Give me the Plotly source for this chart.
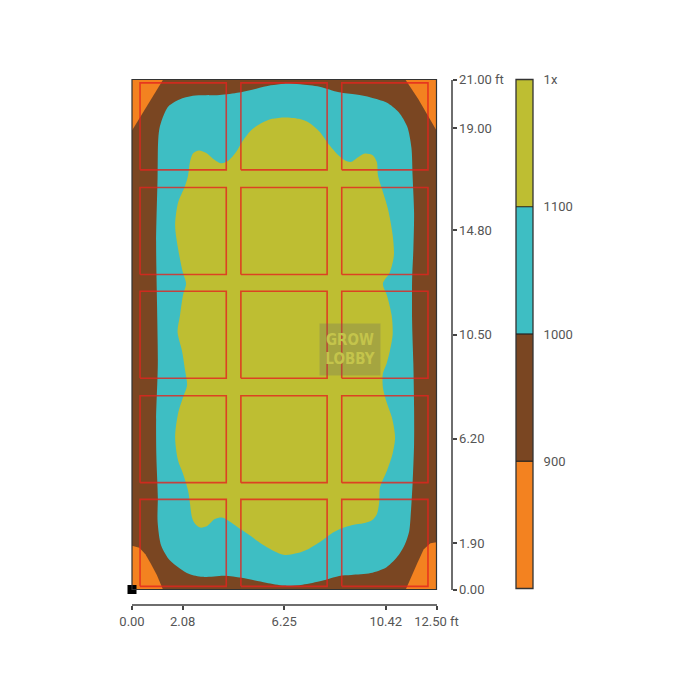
import plotly.graph_objects as go

# ---------------- data ----------------
room_range_x = [0.0, 12.5]
room_range_y = [0.0, 21.0]

x_ticks = [0.00, 2.08, 6.25, 10.42, 12.50]
x_tick_text = ["0.00", "2.08", "6.25", "10.42", "12.50 ft"]
y_ticks = [0.00, 1.90, 6.20, 10.50, 14.80, 19.00, 21.00]
y_tick_text = ["0.00", "1.90", "6.20", "10.50", "14.80", "19.00", "21.00 ft"]

level_edges = [800, 900, 1000, 1100, 1200]
level_lines = [900, 1000, 1100]
level_tick_vals = [900, 1000, 1100, 1200]
level_tick_text = ["900", "1000", "1100", "1x"]
band_colors = ["#F38220", "#7A4622", "#3EBEC3", "#BEBE32"]

# iso-line 1000 (encloses the >=1000 region)
iso1000_x = [1.05, 1.07, 1.12, 1.25, 1.50, 1.95, 2.50, 3.60, 4.40, 5.10, 5.70, 6.25, 6.90, 7.70,
             8.50, 9.20, 9.80, 10.45, 10.95, 11.30, 11.47, 11.52, 11.58, 11.55, 11.50, 11.50,
             11.55, 11.58, 11.58, 11.52, 11.45, 11.38, 11.20, 10.95, 10.45, 9.80, 9.00, 8.50,
             7.80, 7.00, 6.25, 5.50, 4.50, 3.80, 2.90, 2.35, 1.95, 1.55, 1.20, 1.05, 1.06, 1.00,
             0.99, 1.06, 1.03, 0.99, 1.05]
iso1000_y = [17.00, 18.40, 18.95, 19.40, 19.90, 20.18, 20.33, 20.36, 20.46, 20.62, 20.76, 20.83,
             20.80, 20.70, 20.47, 20.38, 20.26, 20.05, 19.65, 19.05, 18.20, 17.00, 15.50, 14.00,
             12.80, 11.00, 9.30, 7.50, 6.00, 4.40, 3.20, 2.40, 1.85, 1.42, 0.92, 0.68, 0.60,
             0.56, 0.36, 0.20, 0.16, 0.28, 0.48, 0.57, 0.52, 0.64, 0.88, 1.20, 1.80, 2.80, 3.80,
             5.50, 7.00, 9.30, 11.60, 14.30, 17.00]

# iso-line 1100 (encloses the >=1100 region)
iso1100_x = [2.30, 2.38, 2.50, 2.75, 3.05, 3.35, 3.68, 3.98, 4.25, 4.50, 4.88, 5.30, 5.75, 6.28,
             6.85, 7.30, 7.70, 8.10, 8.45, 8.75, 8.98, 9.28, 9.56, 9.88, 10.05, 10.10, 10.26,
             10.50, 10.70, 10.75, 10.58, 10.30, 10.47, 10.66, 10.70, 10.59, 10.45, 10.30, 10.30,
             10.47, 10.67, 10.80, 10.70, 10.47, 10.18, 10.15, 10.05, 9.85, 9.50, 9.05, 8.60,
             8.15, 7.70, 7.20, 6.80, 6.28, 5.80, 5.25, 4.80, 4.40, 3.98, 3.70, 3.40, 3.10, 2.80,
             2.58, 2.46, 2.38, 2.30, 2.09, 1.89, 1.77, 1.89, 2.09, 2.26, 2.18, 2.05, 1.87, 1.97,
             2.09, 2.22, 2.09, 1.89, 1.77, 1.89, 2.18, 2.30]
iso1100_y = [17.04, 17.60, 17.95, 18.08, 17.97, 17.72, 17.55, 17.68, 17.98, 18.40, 18.90, 19.20,
             19.38, 19.44, 19.38, 19.20, 18.85, 18.30, 17.90, 17.66, 17.60, 17.80, 17.95, 17.88,
             17.60, 17.04, 16.50, 15.70, 14.60, 13.75, 13.05, 12.60, 12.10, 11.28, 10.50, 9.84,
             9.30, 8.90, 8.32, 7.66, 7.08, 6.26, 5.60, 4.90, 4.20, 3.60, 3.10, 2.85, 2.73, 2.66,
             2.52, 2.28, 1.95, 1.65, 1.50, 1.42, 1.60, 1.93, 2.25, 2.52, 2.82, 2.96, 2.90, 2.63,
             2.55, 2.72, 2.98, 3.54, 4.08, 4.78, 5.31, 6.26, 7.25, 7.90, 8.40, 9.02, 9.84, 10.60,
             11.28, 12.10, 12.60, 13.05, 14.04, 14.99, 15.93, 16.63, 17.04]

# iso-line 900 (corner pockets below 900)
iso900_tl_x = [0.00, 1.28, 0.00, 0.00]
iso900_tl_y = [21.00, 21.00, 18.90, 21.00]
iso900_tr_x = [12.50, 11.22, 11.75, 12.20, 12.50, 12.50]
iso900_tr_y = [21.00, 21.00, 20.20, 19.40, 18.90, 21.00]
iso900_bl_x = [0.00, 0.00, 0.30, 0.55, 0.78, 1.02, 1.27, 0.00]
iso900_bl_y = [0.00, 1.80, 1.72, 1.45, 1.05, 0.60, 0.00, 0.00]
iso900_br_x = [12.50, 12.50, 12.25, 11.97, 11.72, 11.45, 11.24, 12.50]
iso900_br_y = [0.00, 1.95, 1.90, 1.65, 1.10, 0.50, 0.00, 0.00]

# fixtures (red outlines)
fixture_x0 = [0.33, 4.47, 8.61]
fixture_y0 = [0.13, 4.40, 8.70, 12.97, 17.28]
fixture_w = 3.54
fixture_h = 3.58

# ---------------- layout helpers ----------------
OFF = 8
W = H = 692


def fx(p):
    return (p - OFF) / W


def fy(p):
    return 1 - (p - OFF) / H


FONT = "Roboto, 'Noto Sans', sans-serif"
AX_COL = "#6e6e6e"
LBL_COL = "#555555"

fig = go.Figure()

fig.add_trace(go.Scatter(x=iso1000_x, y=iso1000_y, mode="lines", fill="toself",
                         fillcolor=band_colors[2], line=dict(width=0, shape="spline", smoothing=0.8),
                         hoverinfo="skip", showlegend=False))
fig.add_trace(go.Scatter(x=iso1100_x, y=iso1100_y, mode="lines", fill="toself",
                         fillcolor=band_colors[3], line=dict(width=0, shape="spline", smoothing=0.8),
                         hoverinfo="skip", showlegend=False))
for cx, cy in [(iso900_tl_x, iso900_tl_y), (iso900_tr_x, iso900_tr_y),
               (iso900_bl_x, iso900_bl_y), (iso900_br_x, iso900_br_y)]:
    fig.add_trace(go.Scatter(x=cx, y=cy, mode="lines", fill="toself",
                             fillcolor=band_colors[0], line=dict(width=0),
                             hoverinfo="skip", showlegend=False))

fxs, fys = [], []
for y0 in fixture_y0:
    for x0 in fixture_x0:
        fxs += [x0, x0 + fixture_w, x0 + fixture_w, x0, x0, None]
        fys += [y0, y0, y0 + fixture_h, y0 + fixture_h, y0, None]
fig.add_trace(go.Scatter(x=fxs, y=fys, mode="lines",
                         line=dict(color="rgba(228,35,30,0.8)", width=1.6),
                         hoverinfo="skip", showlegend=False))

fig.add_trace(go.Scatter(x=[room_range_x[0]], y=[room_range_y[0]], mode="markers",
                         marker=dict(symbol="square", size=9, color="#000000"),
                         cliponaxis=False, hoverinfo="skip", showlegend=False))

fig.add_trace(go.Heatmap(x=[0, 1], y=level_edges, z=[[0], [1], [2], [3]],
                         zmin=-0.5, zmax=3.5, showscale=False, hoverinfo="skip",
                         colorscale=[[0, band_colors[0]], [0.25, band_colors[0]],
                                     [0.25, band_colors[1]], [0.5, band_colors[1]],
                                     [0.5, band_colors[2]], [0.75, band_colors[2]],
                                     [0.75, band_colors[3]], [1, band_colors[3]]],
                         xaxis="x3", yaxis="y3"))

x_dom = [fx(132), fx(436.5)]
y_dom = [fy(589.5), fy(79.5)]
x_pos = fy(605)
y_pos = fx(451.5)

common_tick = dict(tickfont=dict(family=FONT, size=13, color=LBL_COL), showgrid=False,
                   zeroline=False, fixedrange=True, automargin=False)

fig.update_layout(
    template="none",
    width=W, height=H,
    autosize=False,
    margin=dict(l=0, r=0, t=0, b=0, pad=0, autoexpand=False),
    paper_bgcolor="white",
    plot_bgcolor=band_colors[1],
    font=dict(family=FONT),
    xaxis=dict(domain=x_dom, range=room_range_x, anchor="free", position=x_pos,
               showline=True, linecolor=AX_COL, linewidth=2,
               ticks="outside", ticklen=4, tickwidth=2, tickcolor="#444",
               tickmode="array", tickvals=x_ticks, ticktext=x_tick_text, **common_tick),
    xaxis2=dict(domain=x_dom, range=room_range_x, overlaying="x", anchor="free", position=x_pos,
                side="bottom", showline=False, ticks="inside", ticklen=3, tickwidth=2,
                tickcolor="#444", tickmode="array", tickvals=x_ticks, showticklabels=False,
                showgrid=False, zeroline=False, automargin=False),
    yaxis=dict(domain=y_dom, range=room_range_y, anchor="free", position=y_pos, side="right",
               showline=True, linecolor=AX_COL, linewidth=2,
               ticks="outside", ticklen=4, tickwidth=2, tickcolor="#444",
               tickmode="array", tickvals=y_ticks, ticktext=y_tick_text, **common_tick),
    yaxis2=dict(domain=y_dom, range=room_range_y, overlaying="y", anchor="free", position=y_pos,
                side="right", showline=False, ticks="inside", ticklen=3, tickwidth=2,
                tickcolor="#444", tickmode="array", tickvals=y_ticks, showticklabels=False,
                showgrid=False, zeroline=False, automargin=False),
    xaxis3=dict(domain=[fx(516), fx(533)], range=[0, 1], anchor="y3", visible=False,
                fixedrange=True, automargin=False),
    yaxis3=dict(domain=[fy(588.5), fy(79.5)], range=[level_edges[0], level_edges[-1]],
                anchor="x3", side="right", showline=False, ticks="outside", ticklen=7,
                tickcolor="rgba(0,0,0,0)", tickmode="array", tickvals=level_tick_vals,
                ticktext=level_tick_text, **common_tick),
    showlegend=False,
)

shapes = [
    dict(type="rect", xref="x domain", yref="y domain", x0=0, x1=1, y0=0, y1=1,
         line=dict(color="#333333", width=1.2)),
    dict(type="rect", xref="x3 domain", yref="y3 domain", x0=0, x1=1, y0=0, y1=1,
         line=dict(color="#333333", width=1.3)),
]
for lv in level_lines:
    shapes.append(dict(type="line", xref="x3 domain", yref="y3", x0=0, x1=1, y0=lv, y1=lv,
                       line=dict(color="#222222", width=1.2)))
fig.update_layout(shapes=shapes)

fig.add_annotation(xref="paper", yref="paper", x=fx(350), y=fy(350), text="<b>GROW<br>LOBBY</b>",
                   showarrow=False, width=60, height=51, bgcolor="rgba(100,100,100,0.28)",
                   font=dict(family="'DejaVu Sans Condensed', Roboto, sans-serif", size=15,
                             color="rgba(196,196,75,1)"),
                   borderpad=0)

fig.write_html("out.html")
